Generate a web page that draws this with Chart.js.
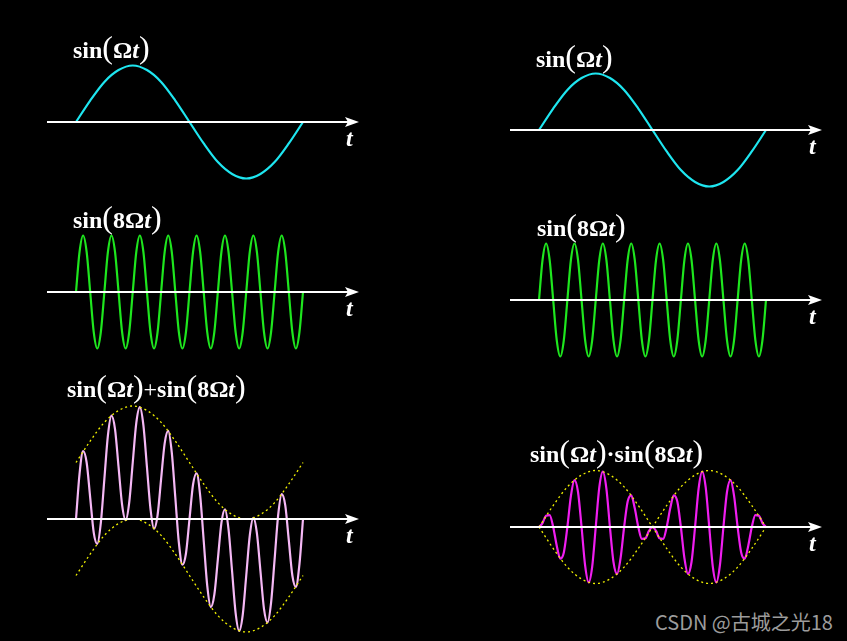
<!DOCTYPE html>
<html>
<head>
<meta charset="utf-8">
<script src="https://cdn.jsdelivr.net/npm/chart.js@4.4.1/dist/chart.umd.min.js"></script>
<style>
  html, body { margin: 0; padding: 0; background: #000; }
  body { width: 847px; height: 641px; position: relative; overflow: hidden; }
  canvas { position: absolute; }
  .lbl {
    position: absolute; white-space: nowrap; color: #fff;
    font-family: 'Liberation Serif', 'Times New Roman', serif;
    font-size: 24px; font-weight: bold; line-height: 30px; height: 30px;
  }
  .lbl .p { font-weight: normal; font-size: 32px; }
  .lbl .op { font-weight: normal; }
  .tlab {
    position: absolute; color: #fff;
    font-family: 'Liberation Serif', 'Times New Roman', serif;
    font-size: 24px; font-weight: bold; font-style: italic; line-height: 24px;
  }
  .mark {
    position: absolute; left: 655px; top: 611px; color: #9c9c9c;
    font-family: 'Noto Sans CJK SC', 'Noto Sans', sans-serif; font-size: 20px; line-height: 22px;
  }
</style>
</head>
<body>
<canvas id="c1" width="330" height="150" style="left:40px;top:47px"></canvas>
<canvas id="c2" width="330" height="150" style="left:40px;top:217px"></canvas>
<canvas id="c3" width="330" height="250" style="left:40px;top:394px"></canvas>
<canvas id="c4" width="330" height="150" style="left:503px;top:55px"></canvas>
<canvas id="c5" width="330" height="150" style="left:503px;top:225px"></canvas>
<canvas id="c6" width="330" height="150" style="left:503px;top:452px"></canvas>

<div class="lbl" style="left:73px;top:32px">sin<span class="p">(</span>Ω<i>t</i><span class="p">)</span></div>
<div class="lbl" style="left:73px;top:202px">sin<span class="p">(</span>8Ω<i>t</i><span class="p">)</span></div>
<div class="lbl" style="left:67px;top:371px">sin<span class="p">(</span>Ω<i>t</i><span class="p">)</span><span class="op">+</span>sin<span class="p">(</span>8Ω<i>t</i><span class="p">)</span></div>
<div class="lbl" style="left:536px;top:41px">sin<span class="p">(</span>Ω<i>t</i><span class="p">)</span></div>
<div class="lbl" style="left:537px;top:210px">sin<span class="p">(</span>8Ω<i>t</i><span class="p">)</span></div>
<div class="lbl" style="left:530px;top:436px">sin<span class="p">(</span>Ω<i>t</i><span class="p">)</span>·sin<span class="p">(</span>8Ω<i>t</i><span class="p">)</span></div>

<div class="tlab" style="left:346px;top:126px">t</div>
<div class="tlab" style="left:346px;top:296px">t</div>
<div class="tlab" style="left:346px;top:523px">t</div>
<div class="tlab" style="left:809px;top:134px">t</div>
<div class="tlab" style="left:809px;top:304px">t</div>
<div class="tlab" style="left:809px;top:531px">t</div>

<div class="mark">CSDN @古城之光18</div>

<script>
// one slow period, 16 steps
const sinSlow = [0, 0.38, 0.71, 0.92, 1, 0.92, 0.71, 0.38, 0, -0.38, -0.71, -0.92, -1, -0.92, -0.71, -0.38, 0];
const sinSlowNeg = [0, -0.38, -0.71, -0.92, -1, -0.92, -0.71, -0.38, 0, 0.38, 0.71, 0.92, 1, 0.92, 0.71, 0.38, 0];

// fast wave, 64 steps over the same period
const sinFast = [
  0, 0.71, 1, 0.71, 0, -0.71, -1, -0.71,
  0, 0.71, 1, 0.71, 0, -0.71, -1, -0.71,
  0, 0.71, 1, 0.71, 0, -0.71, -1, -0.71,
  0, 0.71, 1, 0.71, 0, -0.71, -1, -0.71,
  0, 0.71, 1, 0.71, 0, -0.71, -1, -0.71,
  0, 0.71, 1, 0.71, 0, -0.71, -1, -0.71,
  0, 0.71, 1, 0.71, 0, -0.71, -1, -0.71,
  0, 0.71, 1, 0.71, 0, -0.71, -1, -0.71,
  0
];

const sumWave = [
  0, 0.80, 1.20, 1.00, 0.38, -0.24, -0.44, -0.07,
  0.71, 1.48, 1.83, 1.59, 0.92, 0.25, -0.02, 0.29,
  1, 1.70, 1.98, 1.66, 0.92, 0.18, -0.17, 0.07,
  0.71, 1.34, 1.56, 1.18, 0.38, -0.42, -0.81, -0.61,
  0, 0.61, 0.81, 0.42, -0.38, -1.18, -1.56, -1.34,
  -0.71, -0.07, 0.17, -0.18, -0.92, -1.66, -1.98, -1.70,
  -1, -0.29, 0.02, -0.25, -0.92, -1.59, -1.83, -1.48,
  -0.71, 0.07, 0.44, 0.24, -0.38, -1.00, -1.20, -0.80,
  0
];
const sumUpper = [1, 1.38, 1.71, 1.92, 2, 1.92, 1.71, 1.38, 1, 0.62, 0.29, 0.08, 0, 0.08, 0.29, 0.62, 1];
const sumLower = [-1, -0.62, -0.29, -0.08, 0, -0.08, -0.29, -0.62, -1, -1.38, -1.71, -1.92, -2, -1.92, -1.71, -1.38, -1];

const prodWave = [
  0, 0.07, 0.20, 0.21, 0, -0.33, -0.56, -0.45,
  0, 0.55, 0.83, 0.62, 0, -0.68, -0.98, -0.70,
  0, 0.70, 0.98, 0.68, 0, -0.62, -0.83, -0.55,
  0, 0.45, 0.56, 0.33, 0, -0.21, -0.20, -0.07,
  0, -0.07, -0.20, -0.21, 0, 0.33, 0.56, 0.45,
  0, -0.55, -0.83, -0.62, 0, 0.68, 0.98, 0.70,
  0, -0.70, -0.98, -0.68, 0, 0.62, 0.83, 0.55,
  0, -0.45, -0.56, -0.33, 0, 0.21, 0.20, 0.07,
  0
];

const PX_X = 227;    // pixels per period
const PX_Y = 56.5;   // pixels per unit
const LEFT_PAD = 36; // where t=0 sits in each canvas

// spread samples evenly over one period
function pts(arr) {
  return arr.map((v, i) => ({ x: i / (arr.length - 1), y: v }));
}

function line(arr, color, dashed) {
  return {
    data: pts(arr),
    borderColor: color,
    borderWidth: dashed ? 1.3 : 2.2,
    borderDash: dashed ? [2, 3] : [],
    pointRadius: 0,
    cubicInterpolationMode: 'monotone',
    fill: false
  };
}

const axisArrow = {
  id: 'axisArrow',
  afterDatasetsDraw(chart) {
    const ctx = chart.ctx;
    const x = chart.scales.x, y = chart.scales.y;
    const y0 = Math.round(y.getPixelForValue(0));
    const x0 = x.getPixelForValue(-29 / PX_X);
    const tip = x.getPixelForValue(283 / PX_X);
    ctx.save();
    ctx.strokeStyle = '#fff';
    ctx.fillStyle = '#fff';
    ctx.lineWidth = 2;
    ctx.beginPath();
    ctx.moveTo(x0, y0);
    ctx.lineTo(tip - 10, y0);
    ctx.stroke();
    ctx.beginPath();
    ctx.moveTo(tip, y0);
    ctx.lineTo(tip - 14, y0 - 5);
    ctx.lineTo(tip - 11, y0);
    ctx.lineTo(tip - 14, y0 + 5);
    ctx.closePath();
    ctx.fill();
    ctx.restore();
  }
};

function makePanel(id, datasets) {
  const cv = document.getElementById(id);
  const half = cv.height / 2 / PX_Y;
  new Chart(cv, {
    type: 'line',
    data: { datasets: datasets },
    options: {
      responsive: false,
      animation: false,
      events: [],
      layout: { padding: 0 },
      plugins: { legend: { display: false }, tooltip: { enabled: false } },
      scales: {
        x: { type: 'linear', display: false, min: -LEFT_PAD / PX_X, max: (cv.width - LEFT_PAD) / PX_X },
        y: { display: false, min: -half, max: half }
      }
    },
    plugins: [axisArrow]
  });
}

makePanel('c1', [line(sinSlow, '#1ee6f0')]);
makePanel('c2', [line(sinFast, '#1ee61e')]);
makePanel('c3', [line(sumUpper, '#f0f000', true), line(sumLower, '#f0f000', true), line(sumWave, '#f5b8f5')]);
makePanel('c4', [line(sinSlow, '#1ee6f0')]);
makePanel('c5', [line(sinFast, '#1ee61e')]);
makePanel('c6', [line(sinSlow, '#f0f000', true), line(sinSlowNeg, '#f0f000', true), line(prodWave, '#f01ef0')]);
</script>
</body>
</html>
